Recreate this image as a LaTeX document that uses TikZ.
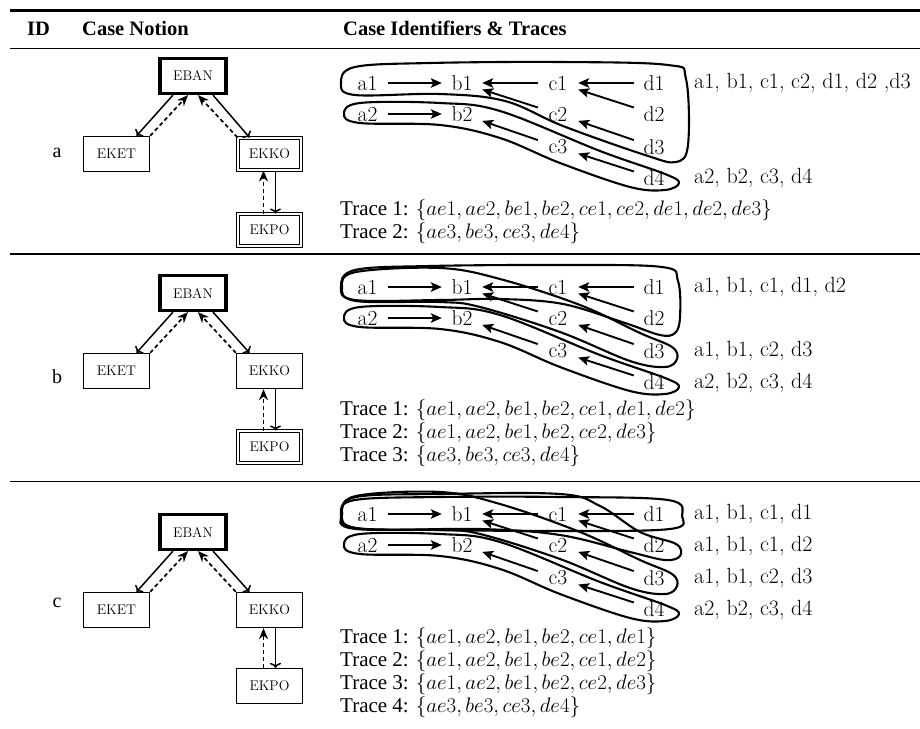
\RequirePackage{fix-cm}
\documentclass[tikz,border=0pt]{standalone}
\usepackage{fontspec}
\newfontfamily\tnr{Liberation Serif}
\usetikzlibrary{arrows.meta}
\newcommand\EvGraph[2]{%
  \node[ev] (#1a1) at (367.5,#2) {a1};
  \node[ev] (#1b1) at (462,#2) {b1};
  \node[ev] (#1c1) at (558,#2) {c1};
  \node[ev] (#1d1) at (654,#2) {d1};
  \node[ev] (#1a2) at (367.5,#2+31) {a2};
  \node[ev] (#1b2) at (462,#2+31) {b2};
  \node[ev] (#1c2) at (558,#2+31) {c2};
  \node[ev] (#1d2) at (654,#2+31) {d2};
  \node[ev] (#1c3) at (558,#2+64) {c3};
  \node[ev] (#1d3) at (654,#2+64) {d3};
  \node[ev] (#1d4) at (654,#2+95) {d4};
  \draw[rel] (#1a1) -- (#1b1);
  \draw[rel] (#1c1) -- (#1b1);
  \draw[rel] (#1d1) -- (#1c1);
  \draw[rel] (#1c2) -- (#1b1);
  \draw[rel] (#1d2) -- (#1c1);
  \draw[rel] (#1d3) -- (#1c2);
  \draw[rel] (#1a2) -- (#1b2);
  \draw[rel] (#1c3) -- (#1b2);
  \draw[rel] (#1d4) -- (#1c3);
}
\newcommand\CaseNotion[4]{%
  \node[mainbox] (#1EBAN) at (193,76+#2) {EBAN};
  \node[box] (#1EKET) at (116.5,154+#2) {EKET};
  \node[#3] (#1EKKO) at (269.5,154+#2) {EKKO};
  \node[#4] (#1EKPO) at (269.5,230+#2) {EKPO};
  \draw[solidarr] ([xshift=-20pt]#1EBAN.south) -- ([xshift=20pt]#1EKET.north);
  \draw[dasharr] (#1EKET.north east) -- ([xshift=-5pt]#1EBAN.south);
  \draw[solidarr] ([xshift=20pt]#1EBAN.south) -- ([xshift=-20pt]#1EKKO.north);
  \draw[dasharr] (#1EKKO.north west) -- ([xshift=5pt]#1EBAN.south);
  \draw[solidarr] ([xshift=6pt]#1EKKO.south) -- ([xshift=6pt]#1EKPO.north);
  \draw[dasharr] ([xshift=-6pt]#1EKPO.north) -- ([xshift=-6pt]#1EKKO.south);
}
\begin{document}
\begin{tikzpicture}[x=1pt,y=-1pt,
  box/.style={draw, line width=1.3pt, minimum width=66pt, minimum height=35pt, inner sep=0pt, font=\fontsize{14}{16}\selectfont},
  mainbox/.style={box, line width=3.2pt},
  dblbox/.style={box, double, double distance=2.2pt, line width=1pt, minimum width=63pt, minimum height=32pt},
  ev/.style={inner sep=0pt, minimum width=40pt, minimum height=20pt, font=\fontsize{21.5}{24}\selectfont},
  rel/.style={line width=1.9pt, -{Stealth[length=11pt,width=9.5pt,inset=2.5pt]}},
  lasso/.style={line width=2.1pt},
  solidarr/.style={line width=1.5pt, -{To[length=5pt,width=11pt]}},
  dasharr/.style={line width=1.7pt, dash pattern=on 4pt off 3pt, -{Stealth[length=11pt,width=9pt]}},
  lbl/.style={anchor=west, inner sep=0pt, font=\fontsize{22}{24}\selectfont},
  trace/.style={anchor=west, inner sep=0pt, font=\tnr\fontsize{21}{23}\selectfont},
  hdr/.style={anchor=base west, inner sep=0pt, font=\tnr\bfseries\fontsize{20.5}{24}\selectfont},
  idl/.style={inner sep=0pt, font=\tnr\fontsize{20}{24}\selectfont}]
\useasboundingbox (0,0) rectangle (920,728);
% rules
\draw[line width=2.4pt] (10,10.5) -- (920,10.5);
\draw[line width=1.3pt] (10,48.5) -- (920,48.5);
\draw[line width=1.3pt] (10,254) -- (920,254);
\draw[line width=1.3pt] (10,481.5) -- (920,481.5);
% header
\node[hdr] (hid) at (27,35) {ID};
\node[hdr] (hcn) at (82,35) {Case Notion};
\node[hdr] (hci) at (343,35) {Case Identifiers \& Traces};
% IDs
\node[idl] (ida) at (57,153) {a};
\node[idl] (idb) at (57,377) {b};
\node[idl] (idc) at (57,603) {c};
% case notions
\CaseNotion{A}{0}{dblbox}{dblbox}
\CaseNotion{B}{217}{box}{dblbox}
\CaseNotion{C}{456}{box}{box}
% graphs
\EvGraph{A}{83}
\EvGraph{B}{287}
\EvGraph{C}{514}
% lassos row a
\begin{scope}[shift={(0,83)}]
\draw[lasso] plot[smooth cycle, tension=0.6] coordinates {(341,0) (355,-16) (430,-20) (560,-21) (668,-18) (686,-4) (688,62) (676,79) (645,72) (563,43) (505,18) (440,11) (355,12)};
\draw[lasso] plot[smooth cycle, tension=0.6] coordinates {(344,31) (360,20) (440,20) (500,28) (600,68) (665,91) (679,100) (665,107) (630,104) (560,80) (500,55) (440,42) (360,40)};
\end{scope}
% lassos row b
\begin{scope}[shift={(0,287)}]
\draw[lasso] plot[smooth cycle, tension=0.6] coordinates {(341,0) (355,-17) (430,-21) (560,-22) (662,-20) (678,-6) (680,30) (675,46) (660,48) (625,36) (563,17) (500,12) (440,13) (355,13)};
\draw[lasso] plot[smooth cycle, tension=0.6] coordinates {(342,0) (356,-15) (440,-19) (500,-8) (580,18) (640,46) (672,60) (677,72) (665,80) (630,74) (560,45) (480,20) (440,15) (356,14)};
\draw[lasso] plot[smooth cycle, tension=0.6] coordinates {(344,31) (360,20) (440,20) (500,28) (600,68) (665,91) (679,100) (665,107) (630,104) (560,80) (500,55) (440,42) (360,40)};
\end{scope}
% lassos row c
\begin{scope}[shift={(0,514)}]
\draw[lasso] plot[smooth cycle, tension=0.6] coordinates {(341,0) (355,-14) (440,-17) (560,-17) (668,-14) (682,2) (670,15) (560,17) (440,16) (355,14)};
\draw[lasso] plot[smooth cycle, tension=0.6] coordinates {(342,0) (356,-17) (440,-20) (560,-20) (600,-8) (640,18) (676,30) (680,42) (665,46) (630,38) (560,21) (480,15) (356,15)};
\draw[lasso] plot[smooth cycle, tension=0.6] coordinates {(342,0) (356,-18) (440,-22) (500,-10) (580,18) (640,46) (672,60) (677,72) (665,80) (630,74) (560,45) (480,20) (440,16) (356,14)};
\draw[lasso] plot[smooth cycle, tension=0.6] coordinates {(344,31) (360,20) (440,20) (500,28) (600,68) (665,91) (679,100) (665,107) (630,104) (560,80) (500,55) (440,42) (360,40)};
\end{scope}
% right labels
\node[lbl] (la1) at (694,83) {a1, b1, c1, c2, d1, d2 ,d3};
\node[lbl] (la2) at (694,178) {a2, b2, c3, d4};
\node[lbl] (lb1) at (694,287) {a1, b1, c1, d1, d2};
\node[lbl] (lb2) at (694,351) {a1, b1, c2, d3};
\node[lbl] (lb3) at (694,383) {a2, b2, c3, d4};
\node[lbl] (lc1) at (694,514) {a1, b1, c1, d1};
\node[lbl] (lc2) at (694,546) {a1, b1, c1, d2};
\node[lbl] (lc3) at (694,578) {a1, b1, c2, d3};
\node[lbl] (lc4) at (694,610) {a2, b2, c3, d4};
% traces
\node[trace] (ta1) at (340,210) {Trace 1: $\{ae1, ae2, be1, be2, ce1, ce2, de1, de2, de3\}$};
\node[trace] (ta2) at (340,233) {Trace 2: $\{ae3, be3, ce3, de4\}$};
\node[trace] (tb1) at (340,410) {Trace 1: $\{ae1, ae2, be1, be2, ce1, de1, de2\}$};
\node[trace] (tb2) at (340,433) {Trace 2: $\{ae1, ae2, be1, be2, ce2, de3\}$};
\node[trace] (tb3) at (340,456) {Trace 3: $\{ae3, be3, ce3, de4\}$};
\node[trace] (tc1) at (340,638) {Trace 1: $\{ae1, ae2, be1, be2, ce1, de1\}$};
\node[trace] (tc2) at (340,661) {Trace 2: $\{ae1, ae2, be1, be2, ce1, de2\}$};
\node[trace] (tc3) at (340,684) {Trace 3: $\{ae1, ae2, be1, be2, ce2, de3\}$};
\node[trace] (tc4) at (340,707) {Trace 4: $\{ae3, be3, ce3, de4\}$};
\end{tikzpicture}
\end{document}
